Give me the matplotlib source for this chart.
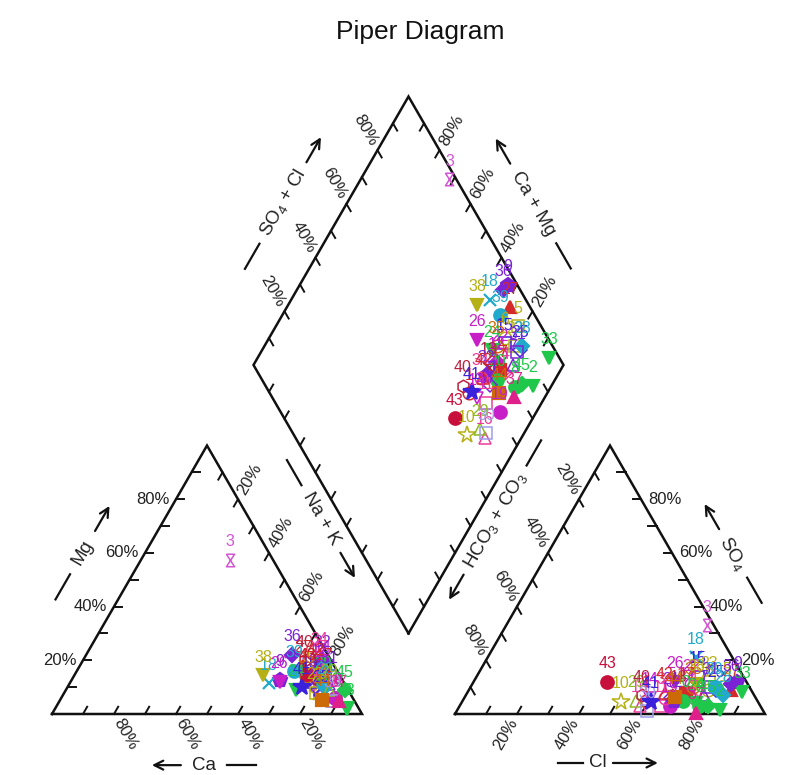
import numpy as np
import matplotlib.pyplot as plt
from matplotlib.path import Path

plt.rcParams['font.family'] = ['Liberation Sans', 'DejaVu Sans']
plt.rcParams['mathtext.fontset'] = 'custom'
plt.rcParams['mathtext.rm'] = 'Liberation Sans'
plt.rcParams['mathtext.it'] = 'Liberation Sans:italic'

# sample compositions, percent of meq
sample_id = list(range(1, 46))
na_k = [74.8, 93.9, 28.6, 82.6, 78.1, 76.1, 83.7, 88.4, 67.2, 81.9,
        82.0, 77.9, 76.5, 78.2, 77.1, 88.3, 80.5, 64.2, 88.3, 81.5,
        80.2, 77.5, 81.0, 74.2, 83.2, 67.4, 72.0, 83.1, 85.0, 87.9,
        82.6, 77.1, 94.0, 75.7, 74.9, 66.5, 90.0, 60.9, 70.2, 71.5,
        75.6, 76.6, 74.9, 84.6, 90.0]
mg = [14.0, 2.2, 57.4, 10.0, 12.0, 15.0, 11.0, 6.0, 12.7, 8.0,
      9.0, 17.0, 13.0, 18.0, 12.0, 5.0, 15.0, 11.5, 6.0, 12.0,
      10.0, 16.0, 8.0, 9.0, 7.0, 12.0, 18.0, 10.0, 9.0, 5.0,
      14.0, 20.0, 2.0, 21.0, 14.0, 22.0, 5.0, 14.5, 16.0, 20.0,
      10.0, 17.0, 15.0, 5.2, 8.9]
ca = [100 - a - b for a, b in zip(na_k, mg)]
so4 = [5.0, 1.5, 33.1, 6.0, 10.0, 9.0, 7.0, 3.0, 11.9, 4.5,
       3.0, 8.0, 7.0, 6.0, 13.8, 3.0, 8.0, 21.2, 3.0, 5.0,
       6.0, 11.0, 12.0, 4.0, 8.9, 11.9, 9.0, 7.0, 5.0, 1.0,
       10.0, 5.0, 8.2, 6.0, 10.0, 11.0, 0.5, 11.0, 10.0, 7.0,
       4.5, 8.0, 11.9, 6.3, 3.0]
cl = [59.2, 84.7, 64.7, 73.7, 82.6, 77.2, 76.7, 77.3, 85.1, 51.3,
      65.0, 70.9, 68.5, 59.8, 71.4, 58.1, 70.5, 67.2, 67.7, 70.9,
      66.7, 70.5, 76.0, 75.7, 79.8, 64.9, 84.5, 83.1, 56.0, 61.4,
      77.4, 68.1, 88.5, 64.8, 71.9, 83.5, 77.5, 72.3, 78.8, 56.7,
      60.9, 63.6, 43.2, 67.8, 80.0]
hco3 = [100 - a - b for a, b in zip(so4, cl)]

# symbol styles
sample_marker = ['o', 'v', 'hg', 'D', 's', 'o', '^', 'o', 'p', '*',
                 's', 'D', 'x', 'v', 's', '^', 's', 'x', 'o', 'o',
                 'D', 'o', 's', 'v', 'D', 'v', '^', 'D', '^', 's',
                 's', 'p', 'v', 'o', 'o', 'D', '^', 'v', 'o', 'h',
                 '*', '^', 'o', 's', 'D']
sample_filled = [0, 1, 0, 0, 0, 0, 0, 1, 1, 0,
                 0, 1, 1, 0, 0, 0, 1, 1, 1, 1,
                 0, 0, 0, 1, 0, 1, 1, 1, 0, 0,
                 0, 1, 1, 0, 0, 1, 1, 1, 1, 0,
                 1, 0, 1, 1, 1]
RED, OLV, CYN, MAG, PUR = '#D42A2A', '#B5B016', '#22AACC', '#C81EC8', '#7B22D6'
GRN, ORG, BLU, PNK, LAV, CRM = '#1FC84A', '#CC6A08', '#3A22DD', '#EE3C9A', '#9C9CEA', '#C8103C'
sample_color = [RED, GRN, '#D455D4', PNK, OLV, OLV, PUR, GRN, PUR, OLV,
                PNK, MAG, '#B02040', MAG, BLU, PNK, RED, CYN, MAG, GRN,
                PUR, MAG, OLV, GRN, BLU, MAG, RED, CYN, '#8CBB22', LAV,
                PUR, PUR, GRN, PNK, ORG, PUR, '#E0208A', OLV, CYN, '#B82240',
                BLU, RED, CRM, ORG, GRN]

S3 = np.sqrt(3) / 2
GAP = 0.3
PX = 1 / 310.0
INK = '#111111'


def cation_xy(c, m, n):
    t = c + m + n
    return n / t + 0.5 * m / t, S3 * m / t


def anion_xy(h, s, c):
    t = h + s + c
    return 1 + GAP + c / t + 0.5 * s / t, S3 * s / t


def diamond_xy(n, a):
    return 1 + GAP / 2 + 0.5 * (a - 1 + n), S3 * GAP + S3 * (a + 1 - n)


fig = plt.figure(figsize=(7.99, 7.75), dpi=100)
ax = fig.add_axes([0, 0, 1, 1])
ax.set_xlim(-52 * PX, (799 - 52) * PX)
ax.set_ylim((714 - 775) * PX, 714 * PX)
ax.axis('off')

A, B, C = np.array([0, 0]), np.array([1, 0]), np.array([0.5, S3])
D, E, F = np.array([1 + GAP, 0]), np.array([2 + GAP, 0]), np.array([1.5 + GAP, S3])
DB, DL, DT, DR = [np.array(diamond_xy(n, a)) for n, a in [(1, 0), (0, 0), (0, 1), (1, 1)]]

for poly in ([A, B, C, A], [D, E, F, D], [DB, DL, DT, DR, DB]):
    p = np.array(poly)
    ax.plot(p[:, 0], p[:, 1], color=INK, lw=1.8, solid_joinstyle='miter', zorder=2)


def side_ticks(p0, p1, tdir, ldir=None, rot=0, ha='center'):
    tdir = np.array(tdir)
    for f in np.arange(1, 10) / 10:
        q = p0 + f * (p1 - p0)
        e = q + 0.027 * tdir
        ax.plot([q[0], e[0]], [q[1], e[1]], color=INK, lw=1.4, zorder=2)
        if ldir is not None and round(f * 10) % 2 == 0:
            lq = q + 0.022 * np.array(ldir)
            ax.text(lq[0], lq[1], '%d%%' % round(f * 100), rotation=rot, ha=ha, va='center',
                    rotation_mode='anchor', fontsize=12, color='#222222')


side_ticks(A, C, (1, 0), (-1, 0), 0, 'right')
side_ticks(C, B, (-0.5, -S3), (0.5, S3), 60, 'left')
side_ticks(B, A, (0.5, S3), (0.5, -S3), -60, 'left')
side_ticks(D, E, (0.5, S3), (-0.5, -S3), 60, 'right')
side_ticks(E, F, (-1, 0), (1, 0), 0, 'left')
side_ticks(F, D, (0.5, -S3), (-0.5, S3), -60, 'right')
side_ticks(DL, DT, (0.5, -S3), (-0.5, S3), -60, 'right')
side_ticks(DR, DT, (-0.5, -S3), (0.5, S3), 60, 'left')
side_ticks(DL, DB, (0.5, S3))
side_ticks(DR, DB, (-0.5, S3))


def axis_title(p0, p1, nrm, text, along, off, d, seg=29, seg_arrow=None):
    u = (p1 - p0) / np.linalg.norm(p1 - p0)
    mid = (p0 + p1) / 2 + along * u + off * np.array(nrm)
    ang = np.degrees(np.arctan2(u[1], u[0]))
    if ang > 90:
        ang -= 180
    elif ang <= -90:
        ang += 180
    ax.text(mid[0], mid[1], text, rotation=ang, ha='center', va='center',
            rotation_mode='anchor', fontsize=13.5, color='#222222')
    sa = seg if seg_arrow is None else seg_arrow
    l0, l1 = mid - d * PX * u, mid - (d + seg) * PX * u
    ax.plot([l0[0], l1[0]], [l0[1], l1[1]], color=INK, lw=1.6)
    a0, a1 = mid + d * PX * u, mid + (d + sa) * PX * u
    ax.annotate('', xy=a1, xytext=a0,
                arrowprops=dict(arrowstyle='->', lw=1.6, color=INK, mutation_scale=16,
                                shrinkA=0, shrinkB=0))


axis_title(A, C, (-S3, 0.5), 'Mg', 0.0, 0.175, 25)
axis_title(B, A, (0, -1), 'Ca', 0.01, 0.165, 23)
axis_title(DL, DB, (-S3, -0.5), 'Na + K', 0.039, 0.06, 39)
axis_title(D, E, (0, -1), 'Cl', -0.039, 0.158, 15, 25, 45)
axis_title(E, F, (S3, 0.5), 'SO$_4$', 0.0, 0.17, 28)
axis_title(DR, DB, (S3, -0.5), 'HCO$_3$ + CO$_3$', 0.0435, 0.059, 63)
axis_title(DL, DT, (-S3, 0.5), 'SO$_4$ + Cl', 0.0, 0.179, 47)
axis_title(DR, DT, (S3, 0.5), 'Ca + Mg', 0.0, 0.176, 46)

hourglass = Path([(-0.65, 1), (0.65, 1), (-0.65, -1), (0.65, -1), (-0.65, 1)])

for i, sid in enumerate(sample_id):
    col = sample_color[i]
    mk = hourglass if sample_marker[i] == 'hg' else sample_marker[i]
    size = {'*': 13, 'D': 7.5, 'x': 8, 'p': 10}.get(sample_marker[i], 9)
    t_an = hco3[i] + so4[i] + cl[i]
    t_ca = ca[i] + mg[i] + na_k[i]
    pts = [cation_xy(ca[i], mg[i], na_k[i]),
           anion_xy(hco3[i], so4[i], cl[i]),
           diamond_xy(na_k[i] / t_ca, (so4[i] + cl[i]) / t_an)]
    for x, y in pts:
        if sample_filled[i] or sample_marker[i] == 'x':
            ax.plot(x, y, marker=mk, ms=size, color=col, mec=col, mew=1.6, ls='none', zorder=3)
        else:
            ax.plot(x, y, marker=mk, ms=size, mfc='none', mec=col, mew=1.1, ls='none', zorder=3)
        ax.annotate(str(sid), (x, y), xytext=(0, 13), textcoords='offset points',
                    ha='center', va='center', fontsize=11.5, color=col, zorder=4)

fig.text(420 / 799, 1 - 32 / 775, 'Piper Diagram', ha='center', va='center',
         fontsize=19, color='#111111')

fig.savefig('out.png', dpi=100)
